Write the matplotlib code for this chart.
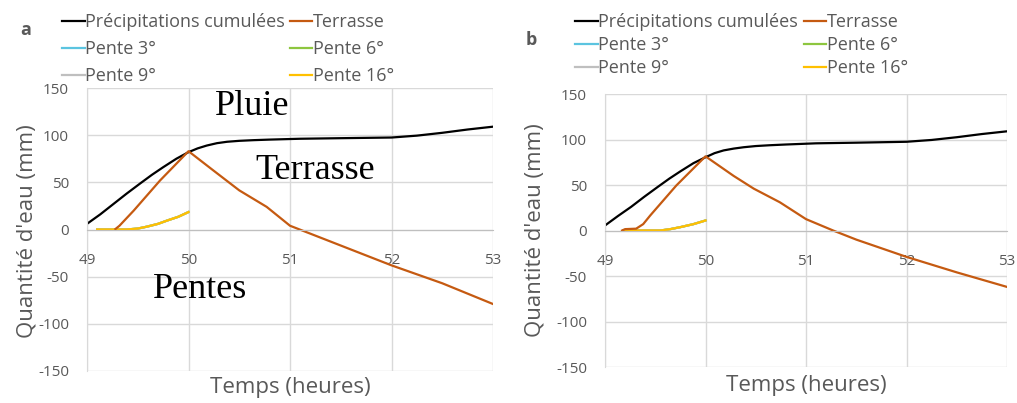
"""Cumulative rainfall vs. water on terrace and slopes, panels a and b."""

import matplotlib
matplotlib.use("Agg")
import matplotlib.pyplot as plt

# ---- data ---------------------------------------------------------------
hours_rain = [49.0, 49.13, 49.26, 49.39, 49.52, 49.64, 49.75, 49.88, 50.0,
              50.09, 50.18, 50.28, 50.38, 50.5, 50.64, 50.8, 51.1, 51.5,
              52.0, 52.25, 52.5, 52.75, 53.0]
rain_a = [6, 16, 27, 38, 48.5, 58, 66, 75, 82, 86, 89, 91.5, 93, 94, 94.7,
          95.3, 96.2, 96.8, 97.5, 99.5, 102.5, 106, 109]
rain_b = [5.5, 16, 26, 37, 47.5, 57, 65, 74, 80.5, 85, 88, 90, 91.5, 92.8,
          93.7, 94.5, 95.8, 96.5, 97.5, 99.5, 102.5, 106, 109]

hours_terrace_a = [49.28, 49.32, 49.46, 49.72, 50.0, 50.24, 50.5, 50.77,
                   51.0, 51.5, 52.0, 52.5, 53.0]
terrace_a = [0.5, 4, 20, 52, 83, 63, 41.5, 24, 4, -17, -38, -57, -79]

hours_terrace_b = [49.17, 49.2, 49.31, 49.38, 49.45, 49.71, 50.0, 50.28,
                   50.48, 50.74, 51.0, 51.27, 51.5, 52.0, 52.5, 53.0]
terrace_b = [0, 1.5, 2, 7, 16.5, 49.5, 81.5, 60, 46, 31, 12.5, 0, -10,
             -29, -46, -62]

hours_slope_a = [49.1, 49.25, 49.39, 49.5, 49.59, 49.7, 49.79, 49.9, 50.0]
slope_a = [0, 0, 0, 1, 3, 6, 9.5, 13.5, 18.5]

hours_slope_b = [49.18, 49.4, 49.55, 49.65, 49.75, 49.88, 50.0]
slope_b = [0, 0, 0, 1.5, 3.7, 7, 11]

x_ticks = [49, 50, 51, 52, 53]
y_ticks = [-150, -100, -50, 0, 50, 100, 150]

slope_names = ["Pente 3°", "Pente 6°", "Pente 9°", "Pente 16°"]
slope_colors = ["#5BC4E0", "#8DC63F", "#BFBFBF", "#FFC000"]

GRAY = "#595959"
GRID = "#D9D9D9"
W, H = 1017, 403

plt.rcParams["font.family"] = ["Open Sans", "DejaVu Sans"]
plt.rcParams["axes.unicode_minus"] = False


def fx(x):
    return x / W


def fy(y):
    return 1 - y / H


def draw_panel(ax, hours_t, terrace, hours_s, slope, rain, label_spacing,
               legend_xy, col_spacing):
    for name, color in zip(slope_names, slope_colors):
        ax.plot(hours_s, slope, color=color, lw=1.6, label=name)
    ax.plot(hours_rain, rain, color="black", lw=1.6,
            label="Précipitations cumulées")
    ax.plot(hours_t, terrace, color="#C55A11", lw=1.6, label="Terrasse")

    ax.set_xlim(49, 53)
    ax.set_ylim(-150, 150)
    ax.set_xticks(x_ticks)
    ax.set_yticks(y_ticks)
    ax.grid(True, color=GRID, lw=1)
    ax.set_axisbelow(True)
    for side in ("top", "right"):
        ax.spines[side].set_visible(False)
    ax.spines["left"].set_color(GRID)
    ax.spines["bottom"].set_position(("data", 0))
    ax.spines["bottom"].set_color("#BFBFBF")
    ax.tick_params(axis="both", length=0, labelsize=11, labelcolor=GRAY)
    ax.tick_params(axis="y", pad=13)
    ax.tick_params(axis="x", pad=17)

    handles, labels = ax.get_legend_handles_labels()
    by_name = dict(zip(labels, handles))
    order = ["Précipitations cumulées", "Pente 3°", "Pente 9°",
             "Terrasse", "Pente 6°", "Pente 16°"]
    fig = ax.figure
    ax.legend([by_name[n] for n in order], order, ncol=2, frameon=False,
              loc="upper left", bbox_to_anchor=legend_xy,
              bbox_transform=fig.transFigure, fontsize=13,
              labelcolor=GRAY, borderpad=0, borderaxespad=0,
              handlelength=1.25, handletextpad=0.05,
              columnspacing=col_spacing, labelspacing=label_spacing)


fig = plt.figure(figsize=(W / 100, H / 100), dpi=100)
ax_a = fig.add_axes([fx(87), fy(371), fx(493 - 87), (371 - 88) / H])
ax_b = fig.add_axes([fx(605), fy(367), fx(1007 - 605), (367 - 94) / H])

draw_panel(ax_a, hours_terrace_a, terrace_a, hours_slope_a, slope_a, rain_a,
           0.5, (fx(62), fy(13)), 0.25)
draw_panel(ax_b, hours_terrace_b, terrace_b, hours_slope_b, slope_b, rain_b,
           0.28, (fx(575), fy(13)), 0.3)

# axis titles
fig.text(fx(27), fy(231), "Quantité d'eau (mm)", rotation=90, ha="center",
         va="center", fontsize=16, color=GRAY)
fig.text(fx(535), fy(230), "Quantité d'eau (mm)", rotation=90, ha="center",
         va="center", fontsize=16, color=GRAY)
fig.text(fx(290), fy(388), "Temps (heures)", ha="center", va="center",
         fontsize=16, color=GRAY)
fig.text(fx(806), fy(385), "Temps (heures)", ha="center", va="center",
         fontsize=16, color=GRAY)

# panel letters
fig.text(fx(26), fy(30), "a", ha="center", va="center", fontsize=13,
         fontweight="bold", color=GRAY)
fig.text(fx(531), fy(40), "b", ha="center", va="center", fontsize=13,
         fontweight="bold", color=GRAY)

# annotations on panel a
serif = dict(family=["Liberation Serif", "DejaVu Serif"], fontsize=26,
             color="black", va="baseline")
ax_a.text(50.26, 121, "Pluie", **serif)
ax_a.text(50.655, 54, "Terrasse", **serif)
ax_a.text(49.65, -73, "Pentes", **serif)

fig.savefig("out.png", dpi=100)
